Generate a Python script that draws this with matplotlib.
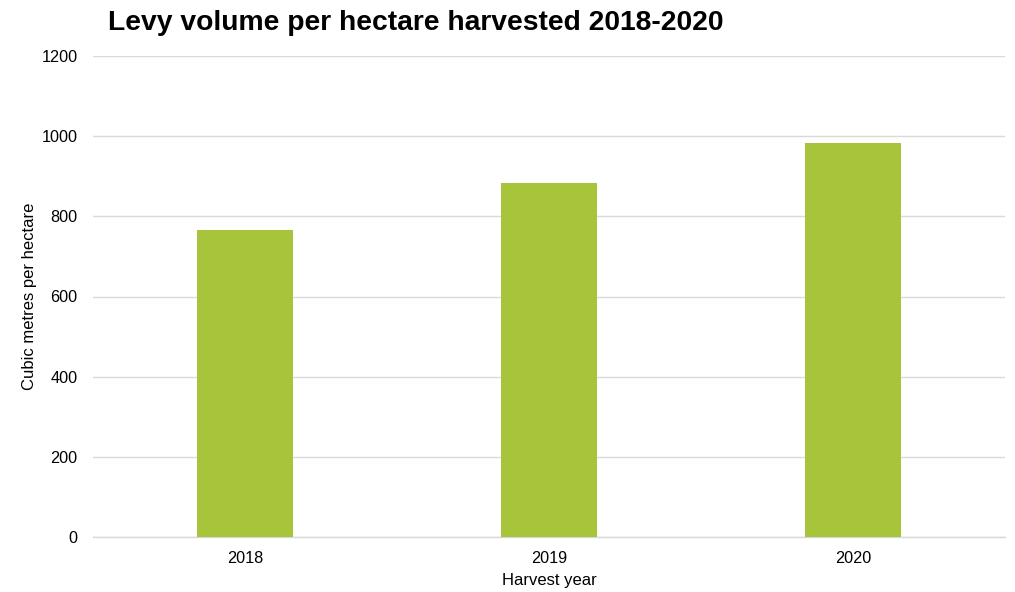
import matplotlib.pyplot as plt
import numpy as np

plt.rcParams['font.family'] = ['Liberation Sans', 'DejaVu Sans']

years = ['2018', '2019', '2020']
volumes = [767, 883, 982]
yticks = [0, 200, 400, 600, 800, 1000, 1200]

fig = plt.figure(figsize=(10.15, 5.92), dpi=100)
ax = fig.add_axes([93 / 1015, 55 / 592, 912 / 1015, 481 / 592])

x = np.arange(len(years))
ax.bar(x, volumes, width=0.316, color='#a8c43a', zorder=3)

ax.set_xlim(-0.5, len(years) - 0.5)
ax.set_ylim(0, 1200)
ax.set_yticks(yticks)
ax.set_xticks(x)
ax.set_xticklabels(years)
ax.tick_params(axis='both', length=0, labelsize=11.7, colors='#000000')
ax.tick_params(axis='y', pad=11)
ax.tick_params(axis='x', pad=10)

ax.grid(axis='y', color='#d9d9d9', linewidth=1, zorder=0)
for side in ['top', 'right', 'left']:
    ax.spines[side].set_visible(False)
ax.spines['bottom'].set_color('#d9d9d9')
ax.spines['bottom'].set_linewidth(1)

ax.set_xlabel('Harvest year', fontsize=12, labelpad=5)
ax.set_ylabel('Cubic metres per hectare', fontsize=12, labelpad=3)

fig.text(108 / 1015, 1 - 23 / 592, 'Levy volume per hectare harvested 2018-2020',
         fontsize=20.3, fontweight='bold', ha='left', va='center')

fig.savefig('out.png', dpi=100)
